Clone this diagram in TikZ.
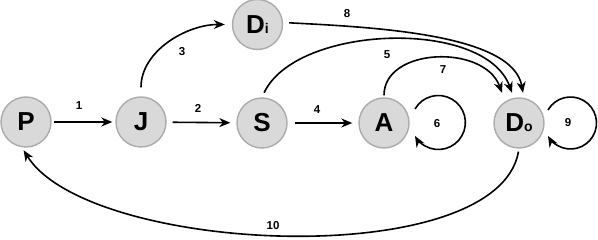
\documentclass[tikz,border=0pt]{standalone}
\usepackage{fontspec}
\setmainfont{Liberation Sans}
\usetikzlibrary{arrows.meta}
\begin{document}
\begin{tikzpicture}[x=1pt,y=1pt,
  ball/.style={circle, draw=black!33, fill=black!15, line width=1.4pt, minimum size=50pt, inner sep=0pt, font=\fontsize{26}{26}\selectfont\bfseries},
  arr/.style={-{Stealth[length=11pt,width=9pt,inset=3.5pt]}, line width=1.6pt},
  lbl/.style={font=\fontsize{11.5}{11.5}\selectfont\bfseries}]
\useasboundingbox (0,0) rectangle (598,240);
% states
\node[ball] (p) at (26,118) {P};
\node[ball] (j) at (141,118) {J};
\node[ball] (s) at (262,117) {S};
\node[ball] (di) at (257.5,215.5) {D{\fontsize{14}{14}\selectfont i}};
\node[ball] (a) at (384,117) {A};
\node[ball] (do) at (519,117) {D{\fontsize{14}{14}\selectfont o}};
% transitions
\draw[arr, shorten <=2pt, shorten >=3pt] (p) -- (j);
\draw[arr, shorten <=6pt, shorten >=6pt] (j) -- (s);
\draw[arr, shorten <=7pt, shorten >=6pt] (s) -- (a);
\draw[arr, shorten <=9pt, shorten >=7pt] (j.north) to[out=90, in=180] (di.west);
\draw[arr, shorten <=5pt] (s.north) .. controls +(65:80) and +(110:80) .. ([xshift=-7pt,yshift=4.5pt]do.north);
\draw[arr, shorten <=2pt] (a.north) .. controls +(90:50) and +(110:52) .. ([xshift=-17pt,yshift=4.5pt]do.north);
\draw[arr, shorten <=6pt] ([yshift=2pt]di.east) .. controls +(-3:90) and +(100:60) .. ([xshift=4pt,yshift=4.5pt]do.north);
\draw[arr] ([xshift=31pt,yshift=14pt]a.center) arc[start angle=150, end angle=-150, radius=27pt];
\draw[arr] ([xshift=29pt,yshift=13pt]do.center) arc[start angle=150, end angle=-150, radius=26pt];
\draw[arr, shorten <=3pt, shorten >=3pt] (do.south) .. controls +(-100:126) and +(-58:126) .. ([xshift=-4pt]p.south);
% labels
\node[lbl] (l1) at (79,134) {1};
\node[lbl] (l2) at (198,132) {2};
\node[lbl] (l3) at (182,188) {3};
\node[lbl] (l4) at (317,130) {4};
\node[lbl] (l5) at (387,185) {5};
\node[lbl] (l6) at (437,116) {6};
\node[lbl] (l7) at (443,170) {7};
\node[lbl] (l8) at (347,226) {8};
\node[lbl] (l9) at (568,117) {9};
\node[lbl] (l10) at (273,14) {10};
\end{tikzpicture}
\end{document}
